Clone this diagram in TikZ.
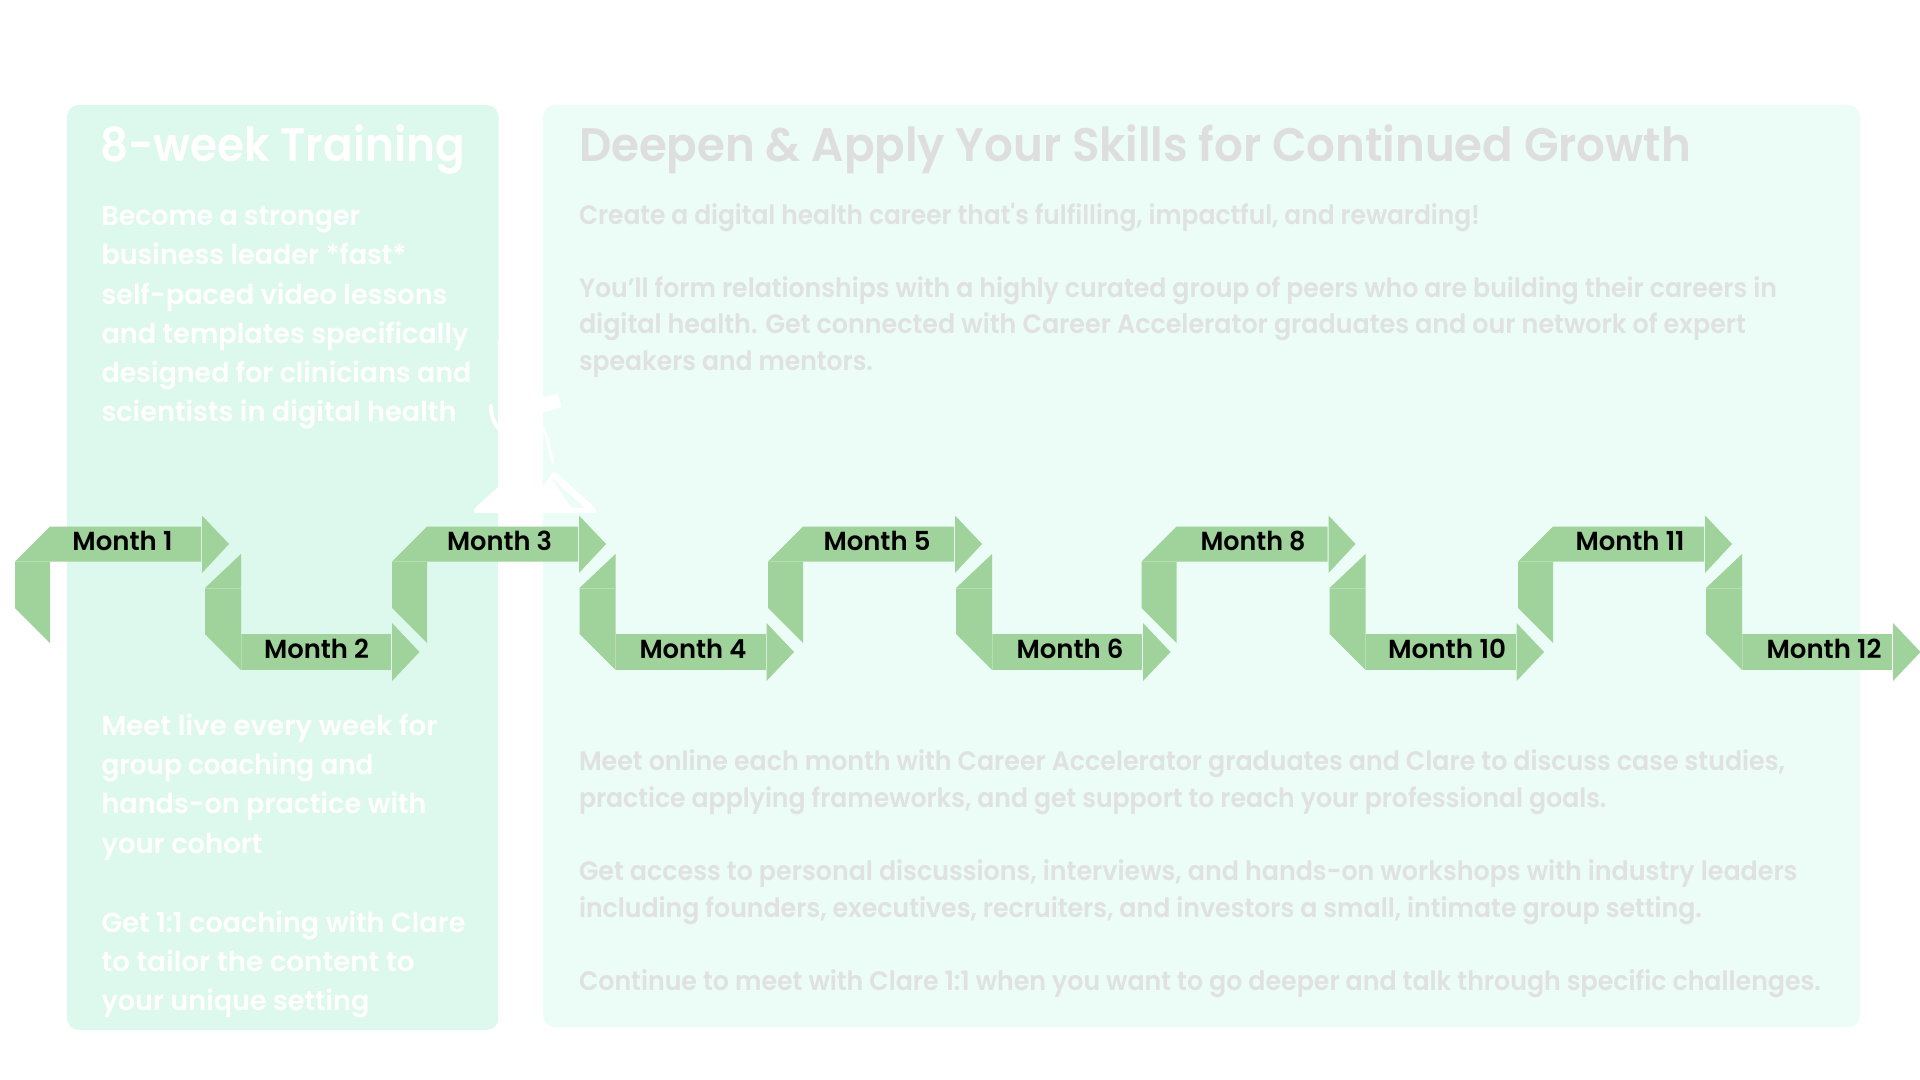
\documentclass[tikz,border=0pt]{standalone}
\usepackage{fontspec}
\usepackage{graphicx}
\newfontfamily\semi{Poppins SemiBold}
\definecolor{panelL}{HTML}{DDF8EC}
\definecolor{panelR}{HTML}{ECFCF6}
\definecolor{ribbon}{HTML}{A0D39B}
\definecolor{seam}{HTML}{B6DEB1}
\definecolor{titleG}{HTML}{DEDEDE}
\definecolor{bodyG}{HTML}{E0E1E1}
\newcommand\fitw[2]{\resizebox{#1\dimexpr 0.75pt\relax}{\height}{#2}}
\tikzset{
  txt/.style={anchor=base west,inner sep=0pt,outer sep=0pt},
  bigT/.style={txt,font=\semi\fontsize{35.2pt}{40pt}\selectfont},
  lbody/.style={txt,text=white,font=\semi\fontsize{20.6pt}{24pt}\selectfont},
  rbody/.style={txt,text=bodyG,font=\semi\fontsize{20pt}{24pt}\selectfont},
  monthlab/.style={anchor=base,inner sep=0pt,outer sep=0pt,text=black,font=\semi\fontsize{19.6pt}{24pt}\selectfont},
  rib/.style={fill=ribbon,draw=none},
  ribseam/.style={draw=seam,line width=.4pt},
  upribbon/.pic={
    \fill[rib] (0,561.7)--(35,526.7)--(186,526.7)--(186,561.7)--cycle;
    \fill[rib] (0,561.7)--(35,561.7)--(35,643)--(0,608)--cycle;
    \fill[rib] (187,515.5)--(214,544)--(187,573)--cycle;
    \draw[ribseam] (0,561.7)--(35,561.7);
  },
  downribbon/.pic={
    \fill[rib] (0,588)--(36,554)--(36,588)--cycle;
    \fill[rib] (0,588)--(36,588)--(36,670)--(0,634)--cycle;
    \fill[rib] (36,634)--(186,634)--(186,670)--(36,670)--cycle;
    \fill[rib] (187,623)--(214.5,652)--(187,681)--cycle;
    \draw[ribseam] (0,588)--(36,588);
    \draw[ribseam] (36,634)--(36,670);
  }
}
\begin{document}
\begin{tikzpicture}[x=0.75pt,y=-0.75pt]
\useasboundingbox (0,0) rectangle (1920,1080);
\fill[white] (0,0) rectangle (1920,1080);
% panels
\fill[panelL,rounded corners=9pt] (67,105) rectangle (498.5,1030);
\fill[panelR,rounded corners=9pt] (543,105) rectangle (1860,1027);
% gap between panels
\fill[white] (498,340) rectangle (543,1080);
% white figure
\fill[white] (474,509)--(498,487)--(543,487)--(553,472)--(558,474)--(596,509)--(596,513)--(474,513)--cycle;
\fill[panelR] (551.5,478)--(584,507.5)--(571.5,507.5)--cycle;
\fill[white] (543,397)--(558,394)--(561.7,407)--(543,412.7)--cycle;
\draw[white,line width=2.2pt,line cap=round] (543,428)--(546,435)--(552.7,461.7);
\draw[white,line width=3pt,line cap=round] (491,406) .. controls (491,415) and (494,423) .. (498,428);
% ribbons
\pic at (15,0) {upribbon};
\pic at (205,0) {downribbon};
\pic at (392,0) {upribbon};
\pic at (579.5,0) {downribbon};
\pic at (768,0) {upribbon};
\pic at (956,0) {downribbon};
\pic at (1141.5,0) {upribbon};
\pic at (1329.5,0) {downribbon};
\pic at (1518,0) {upribbon};
\pic at (1706,0) {downribbon};
% month labels
\node[monthlab] (m1) at (122.5,550) {\fitw{100}{Month 1}};
\node[monthlab] (m2) at (316.5,658) {\fitw{105}{Month 2}};
\node[monthlab] (m3) at (499.6,550) {\fitw{105}{Month 3}};
\node[monthlab] (m4) at (693,658) {\fitw{107}{Month 4}};
\node[monthlab] (m5) at (877,550) {\fitw{107}{Month 5}};
\node[monthlab] (m6) at (1070,658) {\fitw{107}{Month 6}};
\node[monthlab] (m8) at (1253,550) {\fitw{105}{Month 8}};
\node[monthlab] (m10) at (1447,658) {\fitw{118}{Month 10}};
\node[monthlab] (m11) at (1630,550) {\fitw{109}{Month 11}};
\node[monthlab] (m12) at (1824,658) {\fitw{115}{Month 12}};
% left text
\node[bigT,text=white] (lt) at (100,162) {\fitw{365}{8-week Training}};
\node[lbody] (la1) at (101.5,225.8) {\fitw{259}{Become a stronger}};
\node[lbody] (la2) at (101.5,265) {\fitw{305}{business leader *fast*}};
\node[lbody] (la3) at (101.5,304.2) {\fitw{346}{self-paced video lessons}};
\node[lbody] (la4) at (101.5,343.4) {\fitw{367}{and templates specifically}};
\node[lbody] (la5) at (101.5,382.6) {\fitw{370}{designed for clinicians and}};
\node[lbody] (la6) at (101.5,421.8) {\fitw{355}{scientists in digital health}};
\node[lbody] (lb1) at (101.5,735) {\fitw{336}{Meet live every week for}};
\node[lbody] (lb2) at (101.5,774.6) {\fitw{272}{group coaching and}};
\node[lbody] (lb3) at (101.5,813.9) {\fitw{325}{hands-on practice with}};
\node[lbody] (lb4) at (101.5,853.2) {\fitw{161}{your cohort}};
\node[lbody] (lc1) at (101.5,932.5) {\fitw{364}{Get 1:1 coaching with Clare}};
\node[lbody] (lc2) at (101.5,971.5) {\fitw{313}{to tailor the content to}};
\node[lbody] (lc3) at (101.5,1010.5) {\fitw{268}{your unique setting}};
% right text
\node[bigT,text=titleG] (rt) at (579,162) {\fitw{1112}{Deepen \& Apply Your Skills for Continued Growth}};
\node[rbody] (ra1) at (579,224.5) {\fitw{901}{Create a digital health career that's fulfilling, impactful, and rewarding!}};
\node[rbody] (rb1) at (579,297.5) {\fitw{1198}{You’ll form relationships with a highly curated group of peers who are building their careers in}};
\node[rbody] (rb2) at (579,334) {\fitw{1167}{digital health. Get connected with Career Accelerator graduates and our network of expert}};
\node[rbody] (rb3) at (579,370.4) {\fitw{294}{speakers and mentors.}};
\node[rbody] (rc1) at (579,770.5) {\fitw{1206}{Meet online each month with Career Accelerator graduates and Clare to discuss case studies,}};
\node[rbody] (rc2) at (579,807.2) {\fitw{1027.5}{practice applying frameworks, and get support to reach your professional goals.}};
\node[rbody] (rd1) at (579,880.5) {\fitw{1218.5}{Get access to personal discussions, interviews, and hands-on workshops with industry leaders}};
\node[rbody] (rd2) at (579,917.1) {\fitw{1123}{including founders, executives, recruiters, and investors a small, intimate group setting.}};
\node[rbody] (re1) at (579,990.2) {\fitw{1242}{Continue to meet with Clare 1:1 when you want to go deeper and talk through specific challenges.}};
\end{tikzpicture}
\end{document}
